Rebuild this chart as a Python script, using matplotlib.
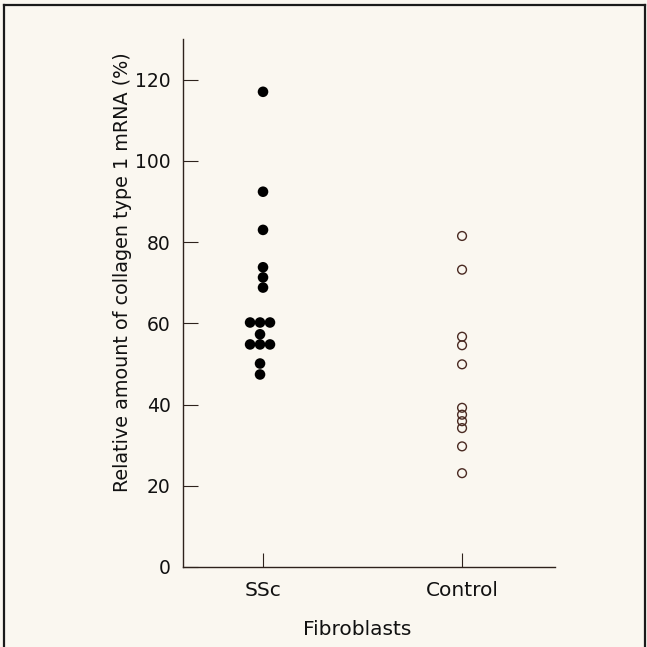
import matplotlib
matplotlib.use("Agg")
import matplotlib.pyplot as plt
from matplotlib.lines import Line2D

# data (% relative collagen type 1 mRNA)
groups = ["SSc", "Control"]
ssc_values = [117, 92.4, 83, 73.8, 71.3, 68.8,
              60.2, 60.2, 60.2, 57.3, 54.8, 54.8, 54.8, 50.1, 47.4]
# small horizontal offsets for the stacked SSc dots (in group units)
ssc_offsets = [0, 0, 0, 0, 0, 0,
               -0.065, -0.015, 0.035, -0.015, -0.065, -0.015, 0.035, -0.015, -0.015]
control_values = [81.5, 73.2, 56.7, 54.6, 49.9,
                  39.2, 37.5, 35.9, 34.2, 29.7, 23.1]
yticks = [0, 20, 40, 60, 80, 100, 120]

bg = "#faf7f0"
ink = "#2e221c"

plt.rcParams["font.family"] = ["DejaVu Sans"]

fig = plt.figure(figsize=(6.47, 6.47), dpi=100, facecolor=bg)
W = H = 647.0
# axes in pixel terms: left 183, right 555, top 39, bottom 567
ax = fig.add_axes([183 / W, 1 - 567 / H, (555 - 183) / W, (567 - 39) / H])
ax.set_facecolor(bg)

ax.scatter([1 + o for o in ssc_offsets], ssc_values, s=58, color="black",
           edgecolors="none", zorder=3)
ax.scatter([2] * len(control_values), control_values, s=40, facecolors="none",
           edgecolors="#4a2a22", linewidths=1.0, zorder=3)

ax.set_xlim(0.598, 2.467)
ax.set_ylim(0, 130)
ax.set_yticks(yticks)
ax.set_xticks([1, 2])
ax.set_xticklabels(groups)

for s in ["top", "right"]:
    ax.spines[s].set_visible(False)
for s in ["left", "bottom"]:
    ax.spines[s].set_color(ink)
    ax.spines[s].set_linewidth(1.0)

ax.tick_params(axis="y", direction="in", length=10.5, width=0.8, color=ink,
               labelsize=13.5, pad=9, labelcolor="#111111")
ax.tick_params(axis="x", direction="in", length=10, width=0.8, color=ink,
               labelsize=14.5, pad=10, labelcolor="#111111")

ax.set_ylabel("Relative amount of collagen type 1 mRNA (%)", fontsize=13.8,
              color="#111111")
ax.yaxis.set_label_coords(-0.138, 0.559)
ax.set_xlabel("Fibroblasts", fontsize=14.5, color="#111111")
ax.xaxis.set_label_coords(0.468, -0.10)

# frame around the figure (top, left, right edges)
frame_kw = dict(color="#1a1a1a", linewidth=1.6, transform=fig.transFigure)
fig.add_artist(Line2D([4 / W, 645 / W], [1 - 5 / H, 1 - 5 / H], **frame_kw))
fig.add_artist(Line2D([4 / W, 4 / W], [0, 1 - 5 / H], **frame_kw))
fig.add_artist(Line2D([645 / W, 645 / W], [0, 1 - 5 / H], **frame_kw))

fig.savefig("out.png", dpi=100, facecolor=bg)
